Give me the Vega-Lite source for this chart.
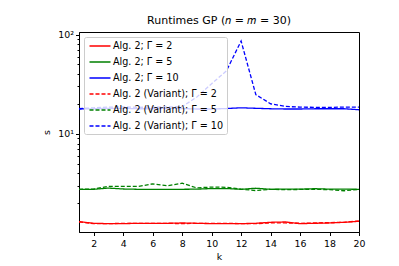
{
  "$schema": "https://vega.github.io/schema/vega-lite/v6.json",
  "autosize": "none",
  "width": 280,
  "height": 200,
  "padding": {"left": 79, "top": 32, "right": 40, "bottom": 34},
  "background": "white",
  "config": {
    "font": "DejaVu Sans",
    "view": {"stroke": "black", "strokeWidth": 1},
    "axis": {"grid": false, "domainColor": "black", "tickColor": "black", "labelColor": "black", "titleColor": "black", "labelFont": "DejaVu Sans", "titleFont": "DejaVu Sans", "labelFontSize": 9.4, "titleFontSize": 9.4, "titleFontWeight": "normal"}
  },
  "title": {"text": "Runtimes GP (𝑛 = 𝑚 = 30)", "fontSize": 11, "fontWeight": "normal", "font": "DejaVu Sans", "color": "black", "offset": 4, "anchor": "middle"},
  "data": {"values": [
    {"series": "Alg. 2; Γ = 2", "k": 1, "s": 1.31}, {"series": "Alg. 2; Γ = 2", "k": 2, "s": 1.26}, {"series": "Alg. 2; Γ = 2", "k": 3, "s": 1.25}, {"series": "Alg. 2; Γ = 2", "k": 4, "s": 1.25}, {"series": "Alg. 2; Γ = 2", "k": 5, "s": 1.26}, {"series": "Alg. 2; Γ = 2", "k": 6, "s": 1.26}, {"series": "Alg. 2; Γ = 2", "k": 7, "s": 1.26}, {"series": "Alg. 2; Γ = 2", "k": 8, "s": 1.27}, {"series": "Alg. 2; Γ = 2", "k": 9, "s": 1.26}, {"series": "Alg. 2; Γ = 2", "k": 10, "s": 1.25},
    {"series": "Alg. 2; Γ = 2", "k": 11, "s": 1.25}, {"series": "Alg. 2; Γ = 2", "k": 12, "s": 1.25}, {"series": "Alg. 2; Γ = 2", "k": 13, "s": 1.26}, {"series": "Alg. 2; Γ = 2", "k": 14, "s": 1.29}, {"series": "Alg. 2; Γ = 2", "k": 15, "s": 1.30}, {"series": "Alg. 2; Γ = 2", "k": 16, "s": 1.25}, {"series": "Alg. 2; Γ = 2", "k": 17, "s": 1.26}, {"series": "Alg. 2; Γ = 2", "k": 18, "s": 1.27}, {"series": "Alg. 2; Γ = 2", "k": 19, "s": 1.29}, {"series": "Alg. 2; Γ = 2", "k": 20, "s": 1.32},
    {"series": "Alg. 2; Γ = 5", "k": 1, "s": 2.77}, {"series": "Alg. 2; Γ = 5", "k": 2, "s": 2.77}, {"series": "Alg. 2; Γ = 5", "k": 3, "s": 2.85}, {"series": "Alg. 2; Γ = 5", "k": 4, "s": 2.79}, {"series": "Alg. 2; Γ = 5", "k": 5, "s": 2.77}, {"series": "Alg. 2; Γ = 5", "k": 6, "s": 2.76}, {"series": "Alg. 2; Γ = 5", "k": 7, "s": 2.76}, {"series": "Alg. 2; Γ = 5", "k": 8, "s": 2.77}, {"series": "Alg. 2; Γ = 5", "k": 9, "s": 2.78}, {"series": "Alg. 2; Γ = 5", "k": 10, "s": 2.82},
    {"series": "Alg. 2; Γ = 5", "k": 11, "s": 2.82}, {"series": "Alg. 2; Γ = 5", "k": 12, "s": 2.77}, {"series": "Alg. 2; Γ = 5", "k": 13, "s": 2.84}, {"series": "Alg. 2; Γ = 5", "k": 14, "s": 2.77}, {"series": "Alg. 2; Γ = 5", "k": 15, "s": 2.78}, {"series": "Alg. 2; Γ = 5", "k": 16, "s": 2.78}, {"series": "Alg. 2; Γ = 5", "k": 17, "s": 2.81}, {"series": "Alg. 2; Γ = 5", "k": 18, "s": 2.78}, {"series": "Alg. 2; Γ = 5", "k": 19, "s": 2.78}, {"series": "Alg. 2; Γ = 5", "k": 20, "s": 2.77},
    {"series": "Alg. 2; Γ = 10", "k": 1, "s": 17.8}, {"series": "Alg. 2; Γ = 10", "k": 2, "s": 17.9}, {"series": "Alg. 2; Γ = 10", "k": 3, "s": 18.1}, {"series": "Alg. 2; Γ = 10", "k": 4, "s": 18.1}, {"series": "Alg. 2; Γ = 10", "k": 5, "s": 17.9}, {"series": "Alg. 2; Γ = 10", "k": 6, "s": 17.9}, {"series": "Alg. 2; Γ = 10", "k": 7, "s": 18.1}, {"series": "Alg. 2; Γ = 10", "k": 8, "s": 18.0}, {"series": "Alg. 2; Γ = 10", "k": 9, "s": 17.8}, {"series": "Alg. 2; Γ = 10", "k": 10, "s": 17.8},
    {"series": "Alg. 2; Γ = 10", "k": 11, "s": 18.0}, {"series": "Alg. 2; Γ = 10", "k": 12, "s": 18.3}, {"series": "Alg. 2; Γ = 10", "k": 13, "s": 18.1}, {"series": "Alg. 2; Γ = 10", "k": 14, "s": 17.9}, {"series": "Alg. 2; Γ = 10", "k": 15, "s": 17.8}, {"series": "Alg. 2; Γ = 10", "k": 16, "s": 17.8}, {"series": "Alg. 2; Γ = 10", "k": 17, "s": 17.9}, {"series": "Alg. 2; Γ = 10", "k": 18, "s": 17.9}, {"series": "Alg. 2; Γ = 10", "k": 19, "s": 17.9}, {"series": "Alg. 2; Γ = 10", "k": 20, "s": 17.5},
    {"series": "Alg. 2 (Variant); Γ = 2", "k": 1, "s": 1.30}, {"series": "Alg. 2 (Variant); Γ = 2", "k": 2, "s": 1.25}, {"series": "Alg. 2 (Variant); Γ = 2", "k": 3, "s": 1.25}, {"series": "Alg. 2 (Variant); Γ = 2", "k": 4, "s": 1.26}, {"series": "Alg. 2 (Variant); Γ = 2", "k": 5, "s": 1.26}, {"series": "Alg. 2 (Variant); Γ = 2", "k": 6, "s": 1.26}, {"series": "Alg. 2 (Variant); Γ = 2", "k": 7, "s": 1.26}, {"series": "Alg. 2 (Variant); Γ = 2", "k": 8, "s": 1.25}, {"series": "Alg. 2 (Variant); Γ = 2", "k": 9, "s": 1.26}, {"series": "Alg. 2 (Variant); Γ = 2", "k": 10, "s": 1.26},
    {"series": "Alg. 2 (Variant); Γ = 2", "k": 11, "s": 1.26}, {"series": "Alg. 2 (Variant); Γ = 2", "k": 12, "s": 1.25}, {"series": "Alg. 2 (Variant); Γ = 2", "k": 13, "s": 1.25}, {"series": "Alg. 2 (Variant); Γ = 2", "k": 14, "s": 1.27}, {"series": "Alg. 2 (Variant); Γ = 2", "k": 15, "s": 1.27}, {"series": "Alg. 2 (Variant); Γ = 2", "k": 16, "s": 1.26}, {"series": "Alg. 2 (Variant); Γ = 2", "k": 17, "s": 1.27}, {"series": "Alg. 2 (Variant); Γ = 2", "k": 18, "s": 1.28}, {"series": "Alg. 2 (Variant); Γ = 2", "k": 19, "s": 1.29}, {"series": "Alg. 2 (Variant); Γ = 2", "k": 20, "s": 1.33},
    {"series": "Alg. 2 (Variant); Γ = 5", "k": 1, "s": 2.77}, {"series": "Alg. 2 (Variant); Γ = 5", "k": 2, "s": 2.79}, {"series": "Alg. 2 (Variant); Γ = 5", "k": 3, "s": 2.96}, {"series": "Alg. 2 (Variant); Γ = 5", "k": 4, "s": 2.97}, {"series": "Alg. 2 (Variant); Γ = 5", "k": 5, "s": 2.96}, {"series": "Alg. 2 (Variant); Γ = 5", "k": 6, "s": 3.14}, {"series": "Alg. 2 (Variant); Γ = 5", "k": 7, "s": 3.01}, {"series": "Alg. 2 (Variant); Γ = 5", "k": 8, "s": 3.19}, {"series": "Alg. 2 (Variant); Γ = 5", "k": 9, "s": 2.86}, {"series": "Alg. 2 (Variant); Γ = 5", "k": 10, "s": 2.92},
    {"series": "Alg. 2 (Variant); Γ = 5", "k": 11, "s": 2.90}, {"series": "Alg. 2 (Variant); Γ = 5", "k": 12, "s": 2.78}, {"series": "Alg. 2 (Variant); Γ = 5", "k": 13, "s": 2.69}, {"series": "Alg. 2 (Variant); Γ = 5", "k": 14, "s": 2.77}, {"series": "Alg. 2 (Variant); Γ = 5", "k": 15, "s": 2.75}, {"series": "Alg. 2 (Variant); Γ = 5", "k": 16, "s": 2.76}, {"series": "Alg. 2 (Variant); Γ = 5", "k": 17, "s": 2.77}, {"series": "Alg. 2 (Variant); Γ = 5", "k": 18, "s": 2.75}, {"series": "Alg. 2 (Variant); Γ = 5", "k": 19, "s": 2.68}, {"series": "Alg. 2 (Variant); Γ = 5", "k": 20, "s": 2.77},
    {"series": "Alg. 2 (Variant); Γ = 10", "k": 1, "s": 18.0}, {"series": "Alg. 2 (Variant); Γ = 10", "k": 2, "s": 18.3}, {"series": "Alg. 2 (Variant); Γ = 10", "k": 3, "s": 18.6}, {"series": "Alg. 2 (Variant); Γ = 10", "k": 4, "s": 18.7}, {"series": "Alg. 2 (Variant); Γ = 10", "k": 5, "s": 18.5}, {"series": "Alg. 2 (Variant); Γ = 10", "k": 6, "s": 18.6}, {"series": "Alg. 2 (Variant); Γ = 10", "k": 7, "s": 18.7}, {"series": "Alg. 2 (Variant); Γ = 10", "k": 8, "s": 18.8}, {"series": "Alg. 2 (Variant); Γ = 10", "k": 9, "s": 23.5}, {"series": "Alg. 2 (Variant); Γ = 10", "k": 10, "s": 32},
    {"series": "Alg. 2 (Variant); Γ = 10", "k": 11, "s": 43}, {"series": "Alg. 2 (Variant); Γ = 10", "k": 12, "s": 86}, {"series": "Alg. 2 (Variant); Γ = 10", "k": 13, "s": 24.8}, {"series": "Alg. 2 (Variant); Γ = 10", "k": 14, "s": 20.1}, {"series": "Alg. 2 (Variant); Γ = 10", "k": 15, "s": 18.9}, {"series": "Alg. 2 (Variant); Γ = 10", "k": 16, "s": 18.6}, {"series": "Alg. 2 (Variant); Γ = 10", "k": 17, "s": 18.5}, {"series": "Alg. 2 (Variant); Γ = 10", "k": 18, "s": 18.5}, {"series": "Alg. 2 (Variant); Γ = 10", "k": 19, "s": 18.6}, {"series": "Alg. 2 (Variant); Γ = 10", "k": 20, "s": 18.6}
  ]},
  "mark": {"type": "line", "strokeWidth": 1.3, "interpolate": "linear"},
  "encoding": {
    "x": {"field": "k", "type": "quantitative", "scale": {"domain": [1, 20], "nice": false, "zero": false},
      "axis": {"values": [2, 4, 6, 8, 10, 12, 14, 16, 18, 20], "title": "k", "tickSize": 3.5, "labelPadding": 3.5, "titlePadding": 5, "labelFlush": false}},
    "y": {"field": "s", "type": "quantitative", "scale": {"type": "log", "domain": [1.03, 106], "nice": false},
      "axis": {"values": [2, 3, 4, 5, 6, 7, 8, 9, 10, 20, 30, 40, 50, 60, 70, 80, 90, 100],
        "labelExpr": "datum.value == 10 ? '10¹' : (datum.value == 100 ? '10²' : '')",
        "tickSize": {"condition": {"test": "datum.value == 10 || datum.value == 100", "value": 3.5}, "value": 2},
        "labelPadding": 2, "title": "s", "titlePadding": 6}},
    "color": {"field": "series", "type": "nominal",
      "scale": {"domain": ["Alg. 2; Γ = 2", "Alg. 2; Γ = 5", "Alg. 2; Γ = 10", "Alg. 2 (Variant); Γ = 2", "Alg. 2 (Variant); Γ = 5", "Alg. 2 (Variant); Γ = 10"],
        "range": ["#ff0000", "#008000", "#0000ff", "#ff0000", "#008000", "#0000ff"]},
      "legend": {"title": null, "orient": "top-left", "offset": 5, "padding": 3, "rowPadding": 5, "fillColor": "rgba(255,255,255,0.8)", "strokeColor": "#cccccc", "cornerRadius": 2,
        "labelFontSize": 9.6, "labelFont": "DejaVu Sans", "labelColor": "black", "symbolType": "M-2.1,0H2.1", "symbolSize": 100, "symbolStrokeWidth": 1.3, "symbolOffset": 7, "labelOffset": 7, "labelLimit": 250}},
    "strokeDash": {"field": "series", "type": "nominal",
      "scale": {"domain": ["Alg. 2; Γ = 2", "Alg. 2; Γ = 5", "Alg. 2; Γ = 10", "Alg. 2 (Variant); Γ = 2", "Alg. 2 (Variant); Γ = 5", "Alg. 2 (Variant); Γ = 10"],
        "range": [[1, 0], [1, 0], [1, 0], [4, 2], [4, 2], [4, 2]]}}
  }
}
